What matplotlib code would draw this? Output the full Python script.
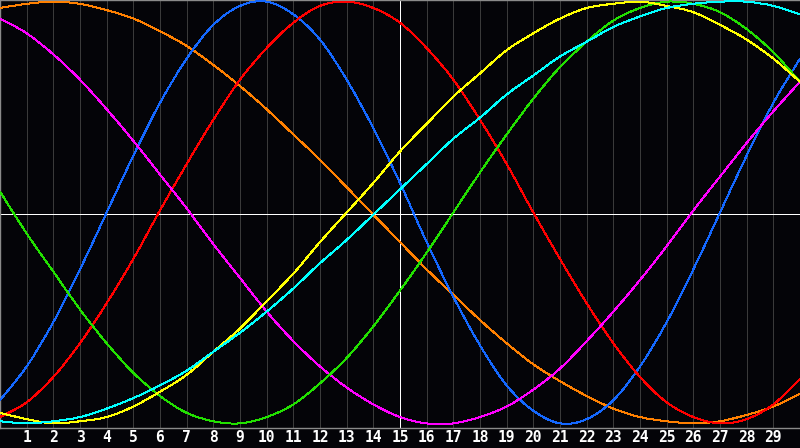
import matplotlib
matplotlib.use("Agg")
import matplotlib.pyplot as plt
from matplotlib.path import Path
from matplotlib.patches import PathPatch

# sample positions along the x axis
x = list(range(0, 31))
tick_labels = [str(i) for i in range(1, 30)]

# curve values (-1 .. 1)
orange = [0.97, 0.99, 1.00, 0.99, 0.96, 0.92, 0.86, 0.79, 0.70, 0.60, 0.49, 0.37, 0.25, 0.12, -0.01, -0.14,
          -0.27, -0.39, -0.51, -0.62, -0.72, -0.80, -0.87, -0.93, -0.97, -0.99, -1.00, -0.99, -0.96, -0.92, -0.86]
blue = [-0.89, -0.73, -0.52, -0.27, 0.00, 0.27, 0.52, 0.73, 0.89, 0.98, 1.00, 0.94, 0.82, 0.63, 0.40, 0.14,
        -0.14, -0.40, -0.63, -0.82, -0.94, -1.00, -0.98, -0.89, -0.73, -0.52, -0.27, 0.00, 0.27, 0.52, 0.73]
red = [-0.97, -0.90, -0.78, -0.62, -0.43, -0.22, 0.01, 0.23, 0.44, 0.63, 0.78, 0.90, 0.98, 1.00, 0.97, 0.90,
       0.78, 0.63, 0.44, 0.23, 0.00, -0.22, -0.43, -0.62, -0.78, -0.90, -0.97, -1.00, -0.98, -0.91, -0.79]
magenta = [0.92, 0.85, 0.75, 0.63, 0.49, 0.34, 0.18, 0.02, -0.15, -0.31, -0.47, -0.61, -0.73, -0.83, -0.91, -0.97,
           -1.00, -1.00, -0.97, -0.92, -0.84, -0.74, -0.61, -0.47, -0.32, -0.16, 0.01, 0.17, 0.33, 0.48, 0.62]
green = [0.10, -0.10, -0.28, -0.46, -0.62, -0.76, -0.87, -0.95, -0.99, -1.00, -0.97, -0.91, -0.81, -0.69, -0.54, -0.37,
         -0.19, 0.00, 0.19, 0.37, 0.54, 0.69, 0.81, 0.91, 0.97, 1.00, 0.99, 0.95, 0.87, 0.76, 0.62]
yellow = [-0.95, -0.98, -1.00, -0.99, -0.97, -0.92, -0.85, -0.77, -0.66, -0.55, -0.42, -0.29, -0.14, 0.00, 0.14, 0.29,
          0.42, 0.55, 0.66, 0.77, 0.85, 0.92, 0.97, 0.99, 1.00, 0.98, 0.95, 0.89, 0.82, 0.73, 0.62]
cyan = [-0.99, -1.00, -0.99, -0.97, -0.93, -0.88, -0.82, -0.75, -0.66, -0.57, -0.47, -0.36, -0.24, -0.13, -0.01, 0.11,
        0.23, 0.35, 0.45, 0.56, 0.65, 0.74, 0.81, 0.88, 0.93, 0.97, 0.99, 1.00, 1.00, 0.98, 0.94]

series = [
    (orange, "#ff8000"),
    (blue, "#1468ff"),
    (red, "#ff0000"),
    (magenta, "#ff00ff"),
    (green, "#22e000"),
    (yellow, "#ffff00"),
    (cyan, "#00ffff"),
]


def smooth_path(xs, ys):
    # Catmull-Rom style bezier through the sample points (rendering only)
    pts = list(zip(xs, ys))
    verts = [pts[0]]
    codes = [Path.MOVETO]
    n = len(pts)
    for i in range(n - 1):
        p0 = pts[max(i - 1, 0)]
        p1 = pts[i]
        p2 = pts[i + 1]
        p3 = pts[min(i + 2, n - 1)]
        c1 = (p1[0] + (p2[0] - p0[0]) / 6, p1[1] + (p2[1] - p0[1]) / 6)
        c2 = (p2[0] - (p3[0] - p1[0]) / 6, p2[1] - (p3[1] - p1[1]) / 6)
        verts += [c1, c2, p2]
        codes += [Path.CURVE4] * 3
    return Path(verts, codes)


fig = plt.figure(figsize=(8, 4.48), dpi=100, facecolor="#040408")
ax = fig.add_axes([0, 20 / 448, 1, 428 / 448])
ax.set_facecolor("#040408")

# vertical grid at every integer
for i in range(1, 30):
    ax.axvline(i, color="#3a3a3a", lw=0.72, zorder=1, antialiased=False)

# white cross hairs
ax.axvline(15, color="white", lw=0.72, zorder=2, antialiased=False)
ax.plot([0, 1], [0.5, 0.5], transform=ax.transAxes, color="white", lw=0.72, zorder=2, antialiased=False)

for vals, col in series:
    patch = PathPatch(smooth_path(x, vals), facecolor="none", edgecolor=col, lw=0.72, zorder=3, antialiased=False)
    ax.add_patch(patch)

ax.set_xlim(0, 30)
ax.set_ylim(-1.022, 1.008)

ax.set_xticks(range(1, 30))
ax.set_xticklabels(tick_labels, color="white", fontsize=10.5, fontweight="bold", family="DejaVu Sans Mono")
ax.tick_params(axis="x", length=0, pad=1.5)
ax.set_yticks([])

for side, sp in ax.spines.items():
    sp.set_color("#8a8a8a")
    sp.set_linewidth(1)
ax.spines["right"].set_visible(False)

fig.savefig("out.png", dpi=100, facecolor=fig.get_facecolor())
